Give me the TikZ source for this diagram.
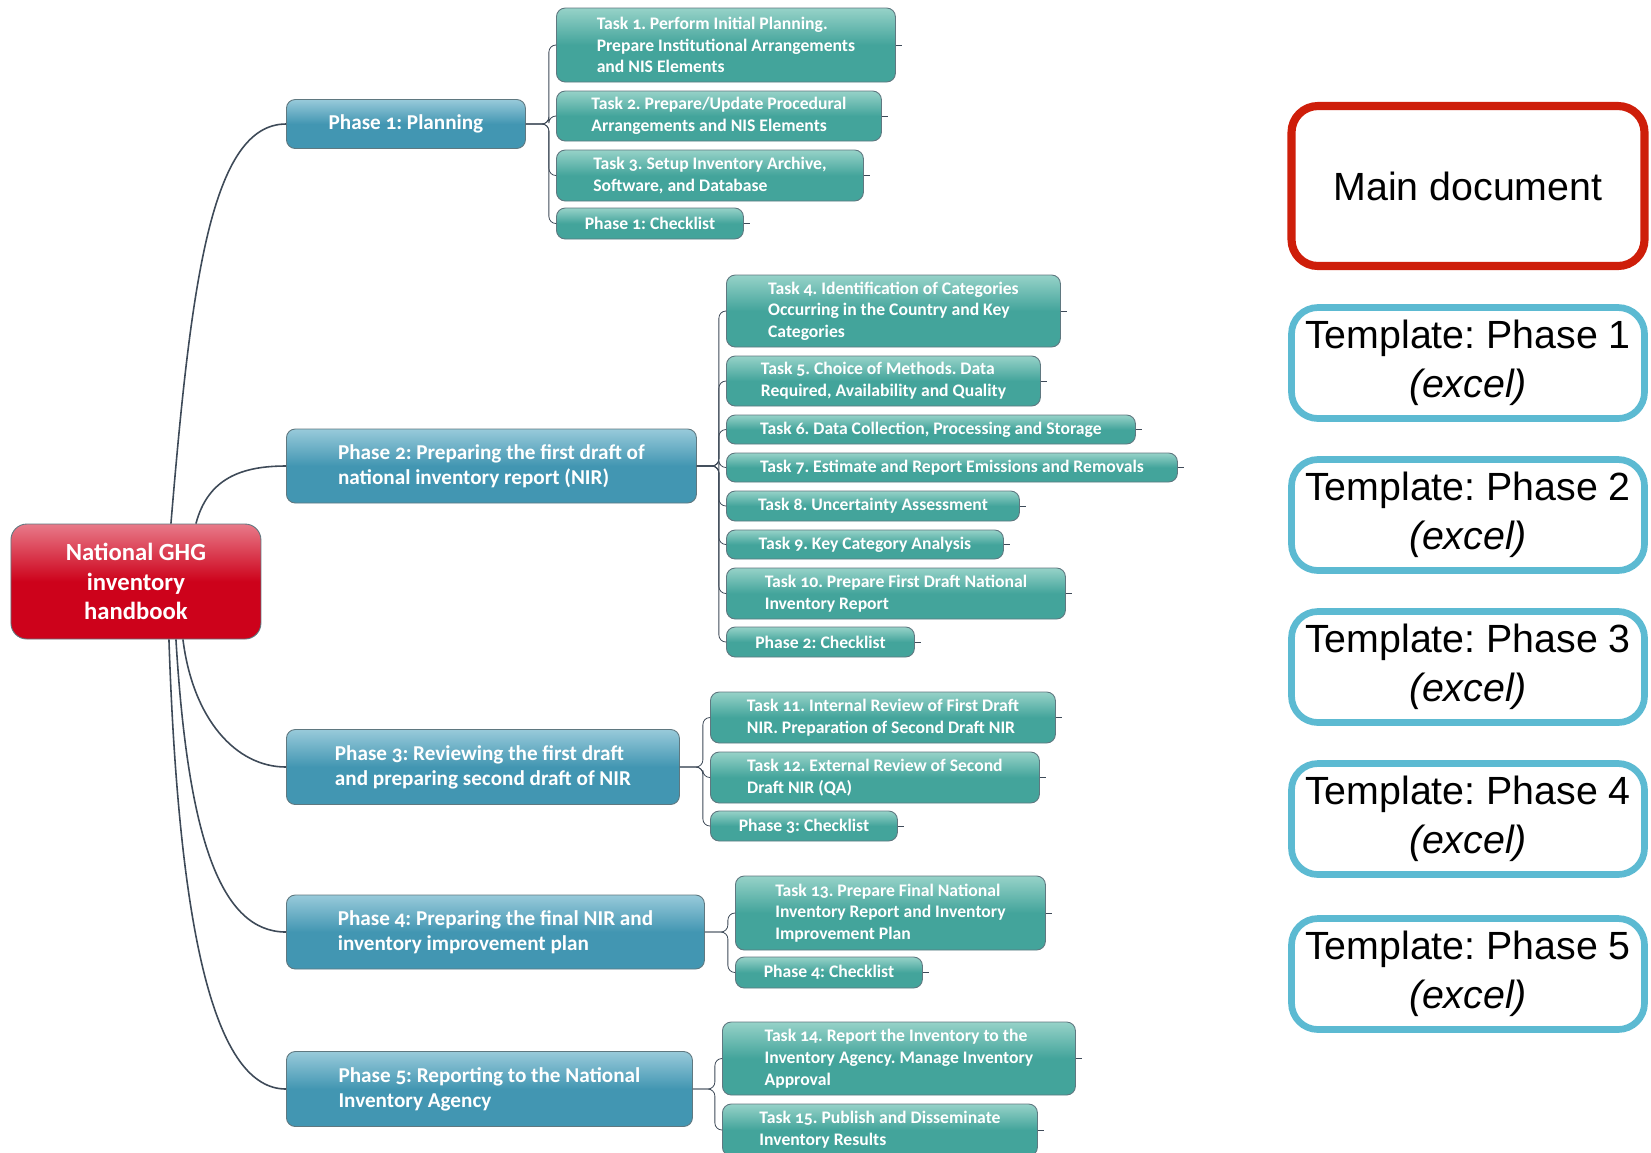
\documentclass[tikz,border=0pt]{standalone}
\usepackage{fontspec}
\setmainfont{Carlito}[Numbers=OldStyle]
\newfontfamily\arialfont{Liberation Sans}
\usepackage{tikz}
\frenchspacing

\definecolor{rootTop}{RGB}{232,122,137}
\definecolor{rootBase}{RGB}{205,2,27}
\definecolor{phaseTop}{RGB}{152,202,218}
\definecolor{phaseBase}{RGB}{66,150,178}
\definecolor{taskTop}{RGB}{150,210,200}
\definecolor{taskBase}{RGB}{67,164,155}
\definecolor{boxBorder}{RGB}{95,120,128}
\definecolor{linkGray}{RGB}{62,74,88}
\definecolor{mainRed}{RGB}{206,30,10}
\definecolor{sheetBlue}{RGB}{92,186,210}

\newcommand{\pxu}{0.567pt}

\begin{document}
\begin{tikzpicture}[
		x=0.567pt, y=-0.567pt,
		every node/.style={text=white, inner sep=0pt, align=left},
		box/.style={draw=boxBorder, line width=0.5pt, rounded corners=5pt, anchor=west},
		root/.style={box, top color=rootTop, bottom color=rootBase, middle color=rootBase,
			rounded corners=9pt, align=center, font=\fontsize{14}{16.7}\selectfont\bfseries},
		phase/.style={box, top color=phaseTop, bottom color=phaseBase, middle color=phaseBase,
			font=\fontsize{12}{14.3}\selectfont\bfseries},
		task/.style={box, top color=taskTop, bottom color=taskBase, middle color=taskBase,
			font=\fontsize{10}{12.3}\selectfont\bfseries},
		main link/.style={draw=linkGray, line width=0.9pt},
		sub link/.style={draw=linkGray, line width=0.45pt, rounded corners=4pt},
		stub/.style={draw=linkGray, line width=0.45pt},
		sheet/.style={line width=3.8pt, rounded corners=15pt, fill=white, text=black,
			align=center, font=\arialfont\fontsize{22.3}{27.5}\selectfont}
		]

	\useasboundingbox (0,0) rectangle (1651,1152);
	\clip (0,0) rectangle (1651,1152);

	% Root
	\node[root, minimum width=250*\pxu, minimum height=115*\pxu] (root) at (10.5,581.5)
		{National GHG\\inventory\\handbook};

	% Phases
	\node[phase, minimum width=239*\pxu, minimum height=49*\pxu] (p1) at (286,124)
		{Phase 1: Planning};
	\node[phase, minimum width=410*\pxu, minimum height=74*\pxu] (p2) at (286,466)
		{Phase 2: Preparing the first draft of\\national inventory report (NIR)};
	\node[phase, minimum width=393*\pxu, minimum height=75*\pxu] (p3) at (286,767)
		{Phase 3: Reviewing the first draft\\and preparing second draft of NIR};
	\node[phase, minimum width=418*\pxu, minimum height=74*\pxu] (p4) at (286,932)
		{Phase 4: Preparing the final NIR and\\inventory improvement plan};
	\node[phase, minimum width=406*\pxu, minimum height=75*\pxu] (p5) at (286,1089)
		{Phase 5: Reporting to the National\\Inventory Agency};

	% Tasks of phase 1
	\node[task, minimum width=339*\pxu, minimum height=74*\pxu] (t1) at (556,45)
		{Task 1. Perform Initial Planning.\\Prepare Institutional Arrangements\\and NIS Elements};
	\node[task, minimum width=325*\pxu, minimum height=50*\pxu] (t2) at (556,116)
		{Task 2. Prepare/Update Procedural\\Arrangements and NIS Elements};
	\node[task, minimum width=307*\pxu, minimum height=51*\pxu] (t3) at (556,175.5)
		{Task 3. Setup Inventory Archive,\\Software, and Database};
	\node[task, minimum width=187*\pxu, minimum height=31*\pxu] (c1) at (556,223.5)
		{Phase 1: Checklist};

	% Tasks of phase 2
	\node[task, minimum width=334*\pxu, minimum height=72*\pxu] (t4) at (726,311)
		{Task 4. Identification of Categories\\Occurring in the Country and Key\\Categories};
	\node[task, minimum width=314*\pxu, minimum height=50*\pxu] (t5) at (726,381)
		{Task 5. Choice of Methods. Data\\Required, Availability and Quality};
	\node[task, minimum width=409*\pxu, minimum height=29*\pxu] (t6) at (726,429.5)
		{Task 6. Data Collection, Processing and Storage};
	\node[task, minimum width=451*\pxu, minimum height=29*\pxu] (t7) at (726,467.5)
		{Task 7. Estimate and Report Emissions and Removals};
	\node[task, minimum width=293*\pxu, minimum height=30*\pxu] (t8) at (726,506)
		{Task 8. Uncertainty Assessment};
	\node[task, minimum width=277*\pxu, minimum height=29*\pxu] (t9) at (726,544.5)
		{Task 9. Key Category Analysis};
	\node[task, minimum width=339*\pxu, minimum height=51*\pxu] (t10) at (726,593.5)
		{Task 10. Prepare First Draft National\\Inventory Report};
	\node[task, minimum width=188*\pxu, minimum height=30*\pxu] (c2) at (726,642)
		{Phase 2: Checklist};

	% Tasks of phase 3
	\node[task, minimum width=345*\pxu, minimum height=51*\pxu] (t11) at (710,717.5)
		{Task 11. Internal Review of First Draft\\NIR. Preparation of Second Draft NIR};
	\node[task, minimum width=329*\pxu, minimum height=51*\pxu] (t12) at (710,777.5)
		{Task 12. External Review of Second\\Draft NIR (QA)};
	\node[task, minimum width=187*\pxu, minimum height=30*\pxu] (c3) at (710,826)
		{Phase 3: Checklist};

	% Tasks of phase 4
	\node[task, minimum width=310*\pxu, minimum height=74*\pxu] (t13) at (735,913)
		{Task 13. Prepare Final National\\Inventory Report and Inventory\\Improvement Plan};
	\node[task, minimum width=187*\pxu, minimum height=31*\pxu] (c4) at (735,972.5)
		{Phase 4: Checklist};

	% Tasks of phase 5
	\node[task, minimum width=353*\pxu, minimum height=73*\pxu] (t14) at (722,1058.5)
		{Task 14. Report the Inventory to the\\Inventory Agency. Manage Inventory\\Approval};
	\node[task, minimum width=315*\pxu, minimum height=52*\pxu] (t15) at (722,1130)
		{Task 15. Publish and Disseminate\\Inventory Results};

	% Root to phases
	\draw[main link] ([shift={(35,0)}]root.north) .. controls +(20,-240) and +(-75,0) .. (p1.west);
	\draw[main link] ([shift={(60,0)}]root.north) .. controls +(12,-45) and +(-45,0) .. (p2.west);
	\draw[main link] ([shift={(47,0)}]root.south) .. controls +(10,80) and +(-50,0) .. (p3.west);
	\draw[main link] ([shift={(40,0)}]root.south) .. controls +(12,200) and +(-65,0) .. (p4.west);
	\draw[main link] ([shift={(33,0)}]root.south) .. controls +(10,300) and +(-70,0) .. (p5.west);

	% Phases to tasks
	\foreach \c in {t1,t2,t3,c1}
		\draw[sub link] (p1.east) -- ++(23,0) |- (\c.west);
	\foreach \c in {t4,t5,t6,t7,t8,t9,t10,c2}
		\draw[sub link] (p2.east) -- ++(22,0) |- (\c.west);
	\foreach \c in {t11,t12,c3}
		\draw[sub link] (p3.east) -- ++(23,0) |- (\c.west);
	\foreach \c in {t13,c4}
		\draw[sub link] (p4.east) -- ++(23,0) |- (\c.west);
	\foreach \c in {t14,t15}
		\draw[sub link] (p5.east) -- ++(22,0) |- (\c.west);

	% Small stubs on the right
	\foreach \c in {t1,t2,t3,c1,t4,t5,t6,t7,t8,t9,t10,c2,t11,t12,c3,t13,c4,t14,t15}
		\draw[stub] (\c.east) -- ++(6,0);

	% Documents
	\node[sheet, draw=mainRed, line width=4.6pt, minimum width=353*\pxu, minimum height=160*\pxu]
		(doc) at (1468,186) {Main document};
	\foreach \i/\y in {1/363, 2/515, 3/667, 4/819, 5/974}{
		\node[sheet, draw=sheetBlue, minimum width=353*\pxu, minimum height=111*\pxu]
			(sheet\i) at (1468,\y) {Template: Phase \i\\\textit{(excel)}};
	}

\end{tikzpicture}
\end{document}
